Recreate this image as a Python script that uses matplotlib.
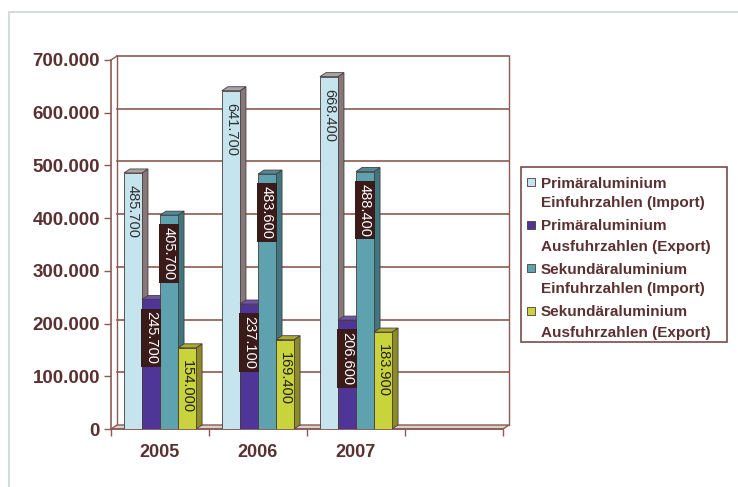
import matplotlib.pyplot as plt
import matplotlib.patches as mpatches

plt.rcParams['font.family'] = ['Liberation Sans', 'DejaVu Sans']

# data (tonnes)
years = ["2005", "2006", "2007"]
series_names = [
    "Primäraluminium\nEinfuhrzahlen (Import)",
    "Primäraluminium\nAusfuhrzahlen (Export)",
    "Sekundäraluminium\nEinfuhrzahlen (Import)",
    "Sekundäraluminium\nAusfuhrzahlen (Export)",
]
prim_import = [485700, 641700, 668400]
prim_export = [245700, 237100, 206600]
sek_import = [405700, 483600, 488400]
sek_export = [154000, 169400, 183900]
series = [prim_import, prim_export, sek_import, sek_export]
yticks = [0, 100000, 200000, 300000, 400000, 500000, 600000, 700000]

# colours per series: front, top, side face
front = ['#c6e4ed', '#4f3597', '#5da2ae', '#c9d43c']
top = ['#a9a5a5', '#6b54a8', '#4b8c97', '#a9ad2e']
side = ['#85777a', '#3a2672', '#3d7780', '#8b8c25']
lab_color = ['#303030', 'white', 'white', '#202020']
lab_box = [None, '#3b1a1a', '#3b1a1a', None]

wall = '#8c5a52'
txt = '#5a3030'
edge = '#4a3a3a'


def de(v):
    return f"{v:,}".replace(",", ".")


W, H = 738, 487
fig = plt.figure(figsize=(W / 100, H / 100), dpi=100)
fig.patch.set_facecolor('white')

# chart area border (light grey, only left/top visible)
fig.add_artist(mpatches.Rectangle((9 / W, -0.1), 1.2, 1 - 12 / H + 0.1, transform=fig.transFigure,
                                  fill=False, edgecolor='#d5dadd', lw=1.5))

L, R, T, B = 111, 503, 60, 429
ax = fig.add_axes([L / W, 1 - B / H, (R - L) / W, (B - T) / H])
ax.set_xlim(0, 4)
ax.set_ylim(0, 700000)
ax.patch.set_visible(False)

# 3d depth expressed in data units
dx = 6 * 4 / (R - L)
dy = 4 * 700000 / (B - T)

# back wall, gridlines and floor
for y in yticks[1:]:
    ax.plot([dx, 4 + dx], [y + dy, y + dy], color=wall, lw=1.2, zorder=1, clip_on=False)
ax.plot([dx, dx], [dy, 700000 + dy], color=wall, lw=1.0, zorder=1, clip_on=False)
ax.plot([4 + dx, 4 + dx], [dy, 700000 + dy], color=wall, lw=1.0, zorder=1, clip_on=False)
ax.plot([0, dx], [700000, 700000 + dy], color=wall, lw=1.0, zorder=1, clip_on=False)
ax.add_patch(mpatches.Polygon([(0, 0), (4, 0), (4 + dx, dy), (dx, dy)], closed=True,
                              facecolor='#d8d2ce', edgecolor=wall, lw=1.0, zorder=2, clip_on=False))

# bars
bw = 0.184
for g in range(len(years)):
    for s in range(len(series)):
        v = series[s][g]
        x0 = g + 0.5 + (s - 2) * bw
        x1 = x0 + bw
        ax.add_patch(mpatches.Polygon([(x1, 0), (x1 + dx, dy), (x1 + dx, v + dy), (x1, v)], closed=True,
                                      facecolor=side[s], edgecolor=edge, lw=0.6, zorder=3, clip_on=False))
        ax.add_patch(mpatches.Polygon([(x0, v), (x1, v), (x1 + dx, v + dy), (x0 + dx, v + dy)], closed=True,
                                      facecolor=top[s], edgecolor=edge, lw=0.6, zorder=3, clip_on=False))
        ax.bar(x0, v, bw, align='edge', color=front[s], edgecolor=edge, lw=0.6, zorder=3)
        bbox = None
        if lab_box[s]:
            bbox = dict(boxstyle='square,pad=0.2', facecolor=lab_box[s], edgecolor='none')
        ax.annotate(de(v), (x0 + bw / 2, v), xytext=(0, -12), textcoords='offset pixels',
                    rotation=270, ha='center', va='top', fontsize=10.5, color=lab_color[s],
                    bbox=bbox, zorder=5)

# axes
for sp in ['top', 'right']:
    ax.spines[sp].set_visible(False)
ax.spines['left'].set_color(wall)
ax.spines['bottom'].set_color(wall)
ax.spines['left'].set_linewidth(1.2)
ax.spines['bottom'].set_linewidth(1.2)

ax.set_yticks(yticks)
ax.set_yticklabels([de(v) for v in yticks], fontsize=13.5, fontweight='bold', color=txt)
ax.tick_params(axis='y', length=5, width=1, color=wall, pad=3)

ax.set_xticks([0, 1, 2, 3, 4])
ax.set_xticklabels([])
ax.set_xticks([0.5, 1.5, 2.5], minor=True)
ax.set_xticklabels(years, minor=True, fontsize=13, fontweight='bold', color=txt)
ax.tick_params(axis='x', which='major', length=5, width=1, color=wall)
ax.tick_params(axis='x', which='minor', length=0, pad=11)

# legend box
fig.add_artist(mpatches.Rectangle((521 / W, 1 - 342 / H), (727 - 521) / W, (342 - 167) / H,
                                  transform=fig.transFigure, fill=False, edgecolor='#7a4a4a', lw=1.2))
for i, name in enumerate(series_names):
    yc = 182 + i * 43
    fig.add_artist(mpatches.Rectangle((527 / W, 1 - (yc + 4) / H), 8 / W, 8 / H,
                                      transform=fig.transFigure, facecolor=front[i],
                                      edgecolor=edge, lw=0.6))
    for j, line in enumerate(name.split("\n")):
        fig.text(541 / W, 1 - (yc + 5.5 + j * 20) / H, line, fontsize=11, fontweight='bold',
                 color=txt, va='baseline', ha='left')

fig.savefig("out.png", dpi=100)
